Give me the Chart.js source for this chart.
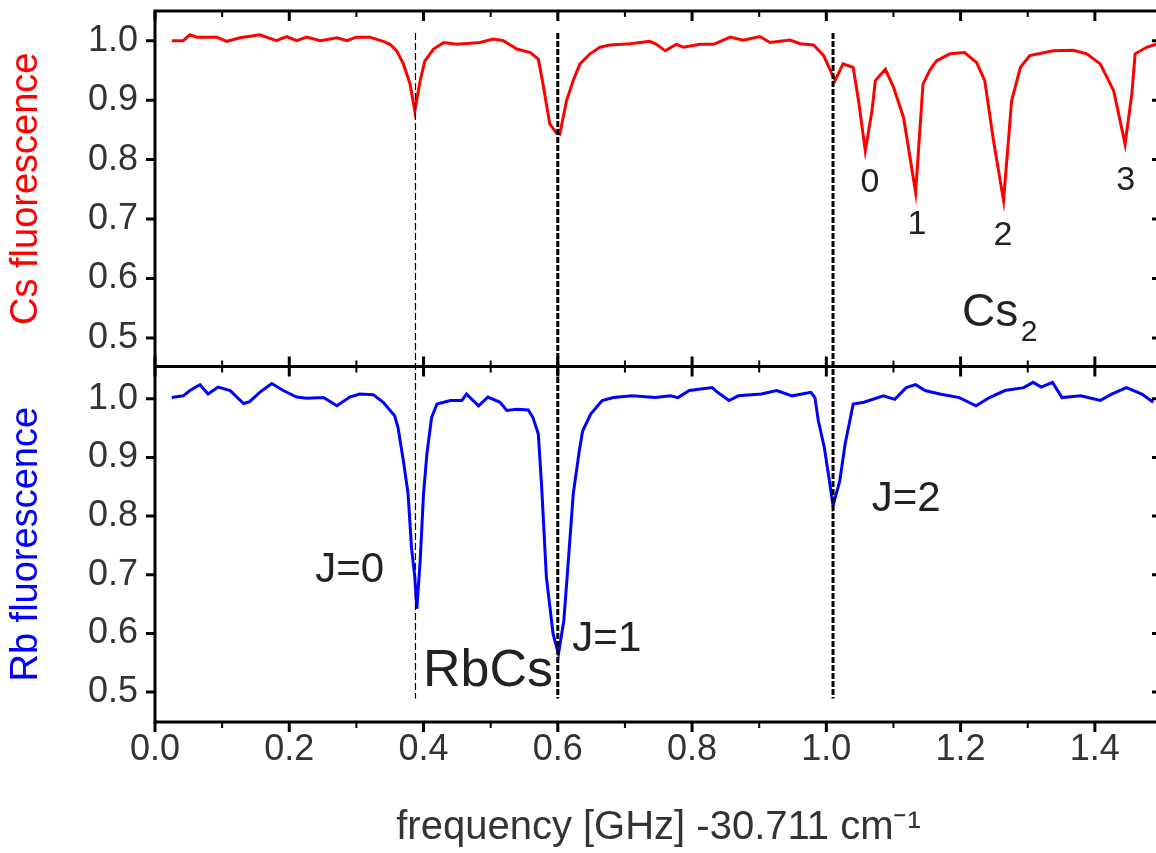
<!DOCTYPE html>
<html>
<head>
<meta charset="utf-8">
<script src="https://cdn.jsdelivr.net/npm/chart.js@4.4.1/dist/chart.umd.min.js"></script>
<style>
  html, body { margin: 0; padding: 0; background: #fff; overflow: hidden; }
  #grafico { width: 1156px; height: 853px; overflow: hidden; }
</style>
</head>
<body>
<div id="grafico"><canvas id="tela" width="1170" height="853"></canvas></div>
<script>
// Cs fluorescence (painel de cima)
const csFreq = [0.025, 0.042, 0.052, 0.062, 0.092, 0.107, 0.127, 0.156, 0.181, 0.196, 0.211, 0.226, 0.246, 0.271, 0.286, 0.300,
  0.320, 0.340, 0.350, 0.360, 0.370, 0.380, 0.387, 0.395, 0.402, 0.415, 0.430, 0.449, 0.484, 0.504, 0.519, 0.539,
  0.559, 0.571, 0.578, 0.588, 0.598, 0.603, 0.613, 0.623, 0.633, 0.648, 0.663, 0.678, 0.708, 0.737, 0.747, 0.760,
  0.777, 0.787, 0.812, 0.832, 0.857, 0.876, 0.901, 0.916, 0.946, 0.961, 0.981, 0.996, 1.006, 1.013, 1.025, 1.040,
  1.048, 1.058, 1.068, 1.073, 1.088, 1.100, 1.115, 1.133, 1.144, 1.154, 1.164, 1.184, 1.206, 1.224, 1.236, 1.249,
  1.264, 1.276, 1.289, 1.303, 1.338, 1.368, 1.388, 1.408, 1.428, 1.445, 1.455, 1.460, 1.477, 1.491]
const csSinal = [1.000, 1.000, 1.010, 1.006, 1.006, 0.999, 1.005, 1.010, 1.000, 1.007, 1.000, 1.006, 1.000, 1.005, 1.000, 1.006,
  1.006, 0.999, 0.994, 0.983, 0.961, 0.927, 0.882, 0.933, 0.966, 0.986, 0.997, 0.994, 0.997, 1.003, 1.000, 0.986,
  0.980, 0.969, 0.927, 0.860, 0.845, 0.843, 0.899, 0.933, 0.961, 0.978, 0.989, 0.993, 0.995, 0.999, 0.994, 0.983,
  0.994, 0.989, 0.994, 0.994, 1.006, 1.001, 1.007, 0.997, 1.001, 0.995, 0.993, 0.975, 0.950, 0.933, 0.961, 0.955,
  0.899, 0.815, 0.882, 0.933, 0.952, 0.922, 0.871, 0.745, 0.927, 0.950, 0.966, 0.978, 0.980, 0.963, 0.933, 0.832,
  0.731, 0.899, 0.955, 0.975, 0.983, 0.984, 0.978, 0.961, 0.916, 0.826, 0.910, 0.978, 0.989, 0.994]

// Rb fluorescence (painel de baixo)
const rbFreq = [0.025, 0.042, 0.052, 0.067, 0.079, 0.094, 0.112, 0.132, 0.141, 0.156, 0.174, 0.191, 0.211, 0.226, 0.251, 0.271,
  0.290, 0.305, 0.325, 0.340, 0.357, 0.362, 0.370, 0.377, 0.382, 0.387, 0.390, 0.395, 0.400, 0.405, 0.412, 0.420,
  0.440, 0.457, 0.464, 0.482, 0.496, 0.514, 0.524, 0.539, 0.556, 0.563, 0.571, 0.576, 0.583, 0.593, 0.601, 0.609,
  0.615, 0.623, 0.632, 0.637, 0.649, 0.666, 0.683, 0.711, 0.745, 0.768, 0.779, 0.796, 0.830, 0.838, 0.855, 0.869,
  0.903, 0.926, 0.949, 0.977, 0.983, 0.988, 0.997, 1.003, 1.010, 1.020, 1.028, 1.040, 1.056, 1.085, 1.102, 1.119,
  1.133, 1.147, 1.169, 1.198, 1.223, 1.243, 1.266, 1.294, 1.308, 1.320, 1.337, 1.351, 1.379, 1.408, 1.425, 1.447,
  1.470, 1.487]
const rbSinal = [1.002, 1.005, 1.014, 1.024, 1.008, 1.020, 1.014, 0.992, 0.995, 1.011, 1.026, 1.014, 1.003, 1.001, 1.002, 0.988,
  1.003, 1.008, 1.007, 0.994, 0.971, 0.951, 0.894, 0.838, 0.747, 0.696, 0.642, 0.724, 0.838, 0.906, 0.968, 0.991,
  0.997, 0.997, 1.008, 0.988, 1.003, 0.994, 0.980, 0.982, 0.981, 0.968, 0.940, 0.849, 0.696, 0.599, 0.565, 0.622,
  0.713, 0.838, 0.911, 0.945, 0.974, 0.997, 1.002, 1.005, 1.002, 1.005, 1.002, 1.014, 1.019, 1.011, 0.997, 1.005,
  1.008, 1.014, 1.005, 1.011, 1.002, 0.963, 0.917, 0.872, 0.818, 0.860, 0.923, 0.991, 0.994, 1.005, 0.999, 1.019,
  1.024, 1.014, 1.008, 1.002, 0.988, 1.002, 1.014, 1.019, 1.028, 1.020, 1.028, 1.002, 1.005, 0.997, 1.008, 1.019,
  1.008, 0.994]

// ticks
const xMajor = [0.0, 0.2, 0.4, 0.6, 0.8, 1.0, 1.2, 1.4]
const xMinor = [0.1, 0.3, 0.5, 0.7, 0.9, 1.1, 1.3]
const yTicks = [0.5, 0.6, 0.7, 0.8, 0.9, 1.0]

// linhas tracejadas verticais (posição em GHz) e espessura
const linhasMarca = [0.388, 0.600, 1.010]
const linhasLargura = [1.2, 3, 3]

// rótulos: [texto, freq, valor, tamanho da fonte]
const rotulosCs = [["0", 1.065, 0.761, 34], ["1", 1.135, 0.690, 34], ["2", 1.263, 0.672, 34], ["3", 1.446, 0.765, 34],
  ["Cs", 1.244, 0.542, 46], ["2", 1.302, 0.508, 30]]
const rotulosRb = [["J=0", 0.290, 0.708, 42], ["J=1", 0.673, 0.589, 42], ["J=2", 1.119, 0.828, 42], ["RbCs", 0.496, 0.535, 52]]

const pontos = (xs, ys) => xs.map((x, i) => ({x: x, y: ys[i]}))

const moldura = {
  id: 'moldura',
  afterDatasetsDraw(chart) {
    const ctx = chart.ctx
    const sx = chart.scales.x, yc = chart.scales.yCs, yr = chart.scales.yRb
    const L = chart.chartArea.left, R = chart.chartArea.right
    const T = yc.top, M = yc.bottom, B = yr.bottom
    ctx.save()
    // linhas tracejadas
    ctx.strokeStyle = '#000'
    linhasMarca.forEach((f, i) => {
      const px = sx.getPixelForValue(f)
      ctx.lineWidth = linhasLargura[i]
      ctx.setLineDash(i === 0 ? [7, 3] : [6, 2])
      ctx.beginPath()
      ctx.moveTo(px, yc.getPixelForValue(1.013))
      ctx.lineTo(px, yr.getPixelForValue(0.489))
      ctx.stroke()
    })
    ctx.setLineDash([])
    // moldura
    ctx.lineWidth = 3
    ctx.beginPath()
    ctx.moveTo(L, T); ctx.lineTo(R, T)
    ctx.moveTo(L, M); ctx.lineTo(R, M)
    ctx.moveTo(L - 1.5, B); ctx.lineTo(R, B)
    ctx.moveTo(L, T - 1.5); ctx.lineTo(L, B)
    ctx.moveTo(R, T); ctx.lineTo(R, B)
    ctx.stroke()
    // ticks do eixo x
    const tickX = (vals, len, w) => {
      ctx.lineWidth = w
      ctx.beginPath()
      vals.forEach(v => {
        const px = sx.getPixelForValue(v)
        ctx.moveTo(px, T); ctx.lineTo(px, T + len)
        ctx.moveTo(px, M - len); ctx.lineTo(px, M + len)
        ctx.moveTo(px, B); ctx.lineTo(px, B + len)
      })
      ctx.stroke()
    }
    tickX(xMajor, 10, 3)
    tickX(xMinor, 6, 2)
    // ticks do eixo y
    ctx.lineWidth = 3
    ctx.beginPath()
    ;[yc, yr].forEach(s => {
      yTicks.forEach(v => {
        const py = s.getPixelForValue(v)
        ctx.moveTo(L - 9, py); ctx.lineTo(L, py)
        ctx.moveTo(R - 10, py); ctx.lineTo(R, py)
      })
    })
    ctx.stroke()
    ctx.restore()
  },
  afterDraw(chart) {
    const ctx = chart.ctx
    const sx = chart.scales.x
    ctx.save()
    ctx.fillStyle = '#222'
    ctx.textAlign = 'center'
    ctx.textBaseline = 'middle'
    const escrever = (lista, sy) => lista.forEach(r => {
      ctx.font = r[3] + 'px "Liberation Sans", Arial, sans-serif'
      ctx.fillText(r[0], sx.getPixelForValue(r[1]), sy.getPixelForValue(r[2]))
    })
    escrever(rotulosCs, chart.scales.yCs)
    escrever(rotulosRb, chart.scales.yRb)
    ctx.restore()
  }
}

const fonteTick = {family: '"Liberation Sans", Arial, sans-serif', size: 36}

const eixoY = (titulo, cor, min, max, peso) => ({
  type: 'linear',
  position: 'left',
  stack: 'paineis',
  stackWeight: 1,
  weight: peso,
  min: min,
  max: max,
  grid: {display: false, drawTicks: false},
  border: {display: false},
  afterBuildTicks: s => { s.ticks = yTicks.map(v => ({value: v})) },
  afterFit: s => { s.width = 155; s.paddingTop = 0; s.paddingBottom = 0 },
  ticks: {
    color: '#333',
    font: fonteTick,
    padding: 17,
    autoSkip: false,
    callback: v => v.toFixed(1)
  },
  title: {
    display: true,
    text: titulo,
    color: cor,
    font: {family: '"Liberation Sans", Arial, sans-serif', size: 38},
    padding: {top: 4, bottom: 0}
  }
})

new Chart(document.getElementById('tela'), {
  type: 'line',
  data: {
    datasets: [{
      label: 'Cs fluorescence',
      data: pontos(csFreq, csSinal),
      yAxisID: 'yCs',
      borderColor: '#ff0000',
      borderWidth: 3,
      pointRadius: 0,
      tension: 0
    }, {
      label: 'Rb fluorescence',
      data: pontos(rbFreq, rbSinal),
      yAxisID: 'yRb',
      borderColor: '#0000ff',
      borderWidth: 3,
      pointRadius: 0,
      tension: 0
    }]
  },
  options: {
    responsive: false,
    animation: false,
    devicePixelRatio: 1,
    layout: {padding: {top: 11, right: 8, bottom: 0, left: 0}},
    plugins: {legend: {display: false}, tooltip: {enabled: false}},
    scales: {
      x: {
        type: 'linear',
        position: 'bottom',
        min: 0,
        max: 1.5,
        grid: {display: false, drawTicks: false},
        border: {display: false},
        afterBuildTicks: s => { s.ticks = xMajor.map(v => ({value: v})) },
        afterFit: s => { s.height = 131; s.paddingLeft = 0; s.paddingRight = 0 },
        ticks: {
          color: '#333',
          font: fonteTick,
          padding: 6,
          autoSkip: false,
          maxRotation: 0,
          callback: v => v.toFixed(1)
        },
        title: {
          display: true,
          text: 'frequency [GHz] -30.711 cm⁻¹',
          color: '#333',
          font: {family: '"Liberation Sans", Arial, sans-serif', size: 40},
          padding: {top: 0, bottom: 1}
        }
      },
      yCs: eixoY('Cs fluorescence', '#ff0000', 0.452, 1.05, 1),
      yRb: eixoY('Rb fluorescence', '#0000ff', 0.449, 1.055, 0)
    }
  },
  plugins: [moldura]
})
</script>
</body>
</html>
